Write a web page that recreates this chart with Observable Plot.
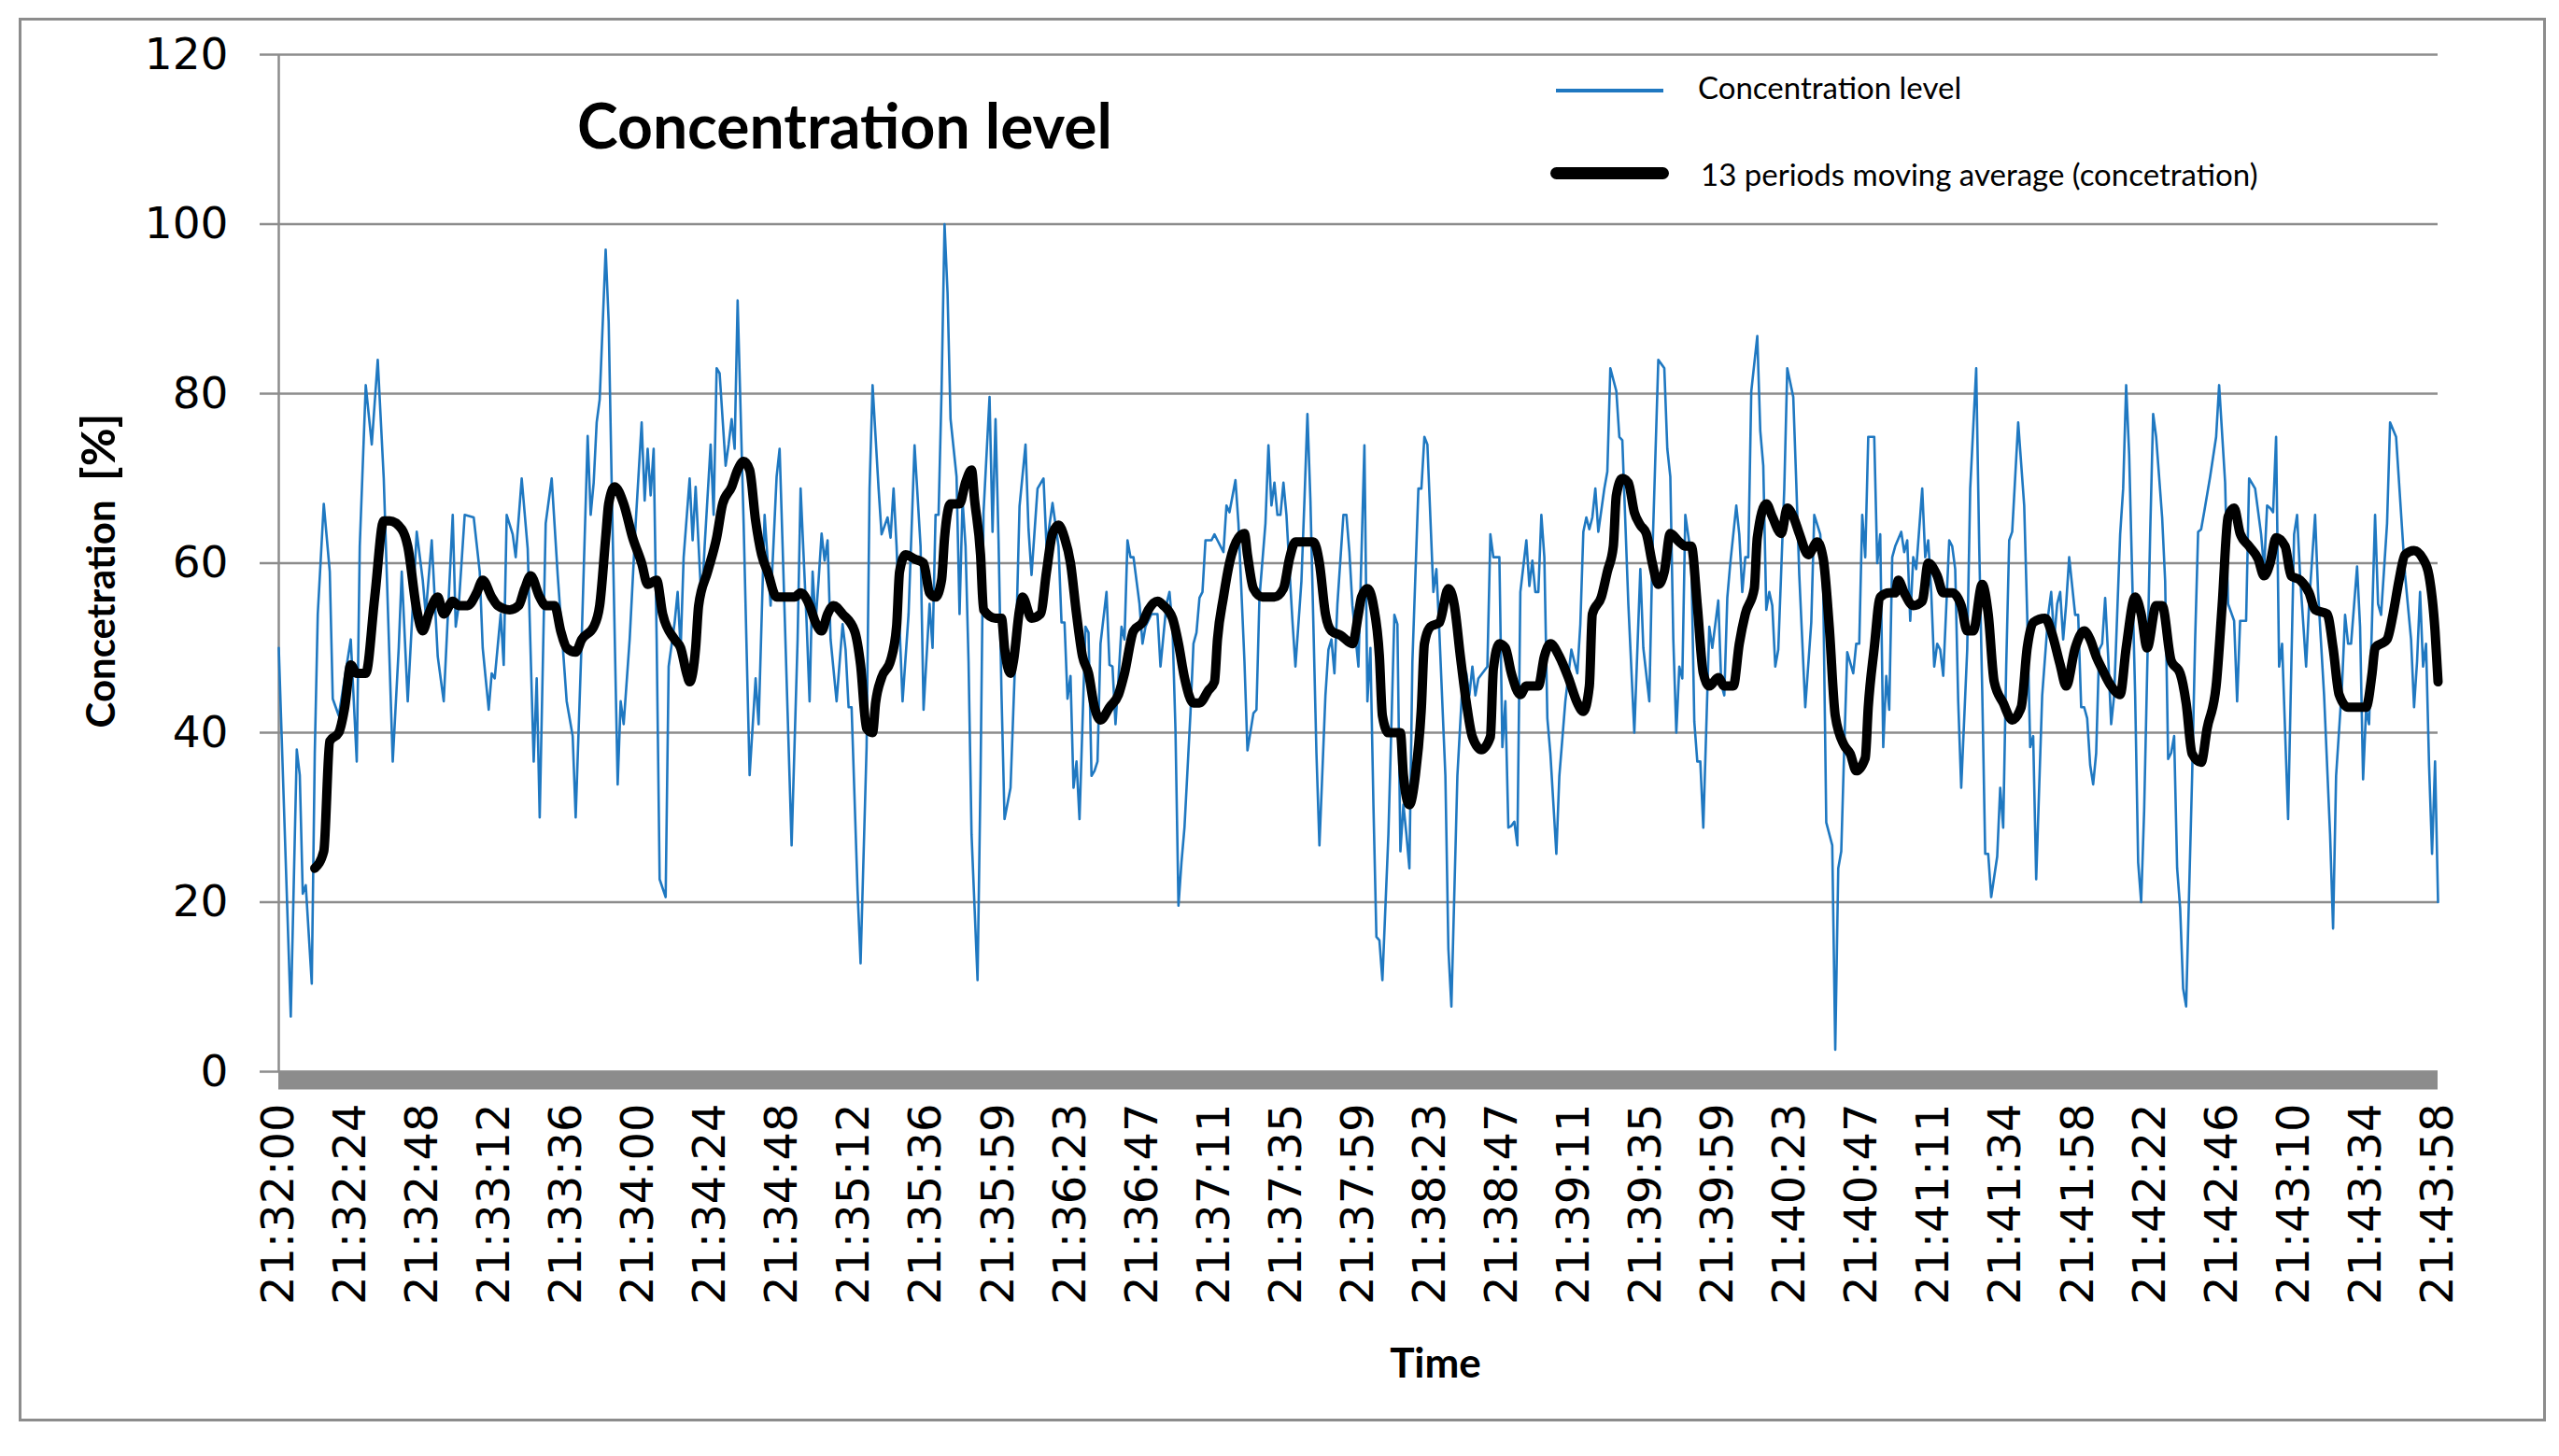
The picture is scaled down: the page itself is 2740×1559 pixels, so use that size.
<!DOCTYPE html>
<html>
<head>
<meta charset="utf-8">
<script src="https://cdn.jsdelivr.net/npm/d3@7"></script>
<script src="https://cdn.jsdelivr.net/npm/@observablehq/plot@0.6"></script>
<style>
  html, body { margin: 0; padding: 0; background: #ffffff; }
  #wrap { position: relative; width: 2740px; height: 1559px; overflow: hidden; background: #fff; }
  #chart { position: absolute; left: 0; top: 0; }
  .abs { position: absolute; white-space: nowrap; color: #000; }
</style>
</head>
<body>
<div id="wrap">
  <div class="abs" style="left:20px;top:19px;width:2706px;height:1503px;border:3px solid #8c8c8c;box-sizing:border-box;"></div>
  <div id="chart"></div>
  <div class="abs" id="title" style="left:618px;top:134px;transform:translateY(-50%);font:bold 66px Lato;line-height:1;">Concentration level</div>
  <div class="abs" style="left:1666px;top:95px;width:115px;height:4px;background:#1f78c1;"></div>
  <div class="abs" style="left:1818px;top:93px;transform:translateY(-50%);font:33px Lato;line-height:1;">Concentration level</div>
  <div class="abs" style="left:1660px;top:179px;width:127px;height:13px;border-radius:7px;background:#000;"></div>
  <div class="abs" style="left:1821px;top:186px;transform:translateY(-50%);font:33px Lato;line-height:1;">13 periods moving average (concetration)</div>
  <div class="abs" style="left:104px;top:611px;transform:translate(-50%,-50%) rotate(-90deg);font:bold 42px Lato;line-height:1;">Concetration&nbsp;&nbsp;<span style="font-size:50px">[%]</span></div>
  <div class="abs" style="left:1537px;top:1458px;transform:translate(-50%,-50%);font:bold 44px Lato;line-height:1;">Time</div>
</div>
<script>
// x-axis category labels (every 24th sample)
const tickLabels = ["21:32:00","21:32:24","21:32:48","21:33:12","21:33:36","21:34:00","21:34:24","21:34:48","21:35:12","21:35:36","21:35:59","21:36:23","21:36:47","21:37:11","21:37:35","21:37:59","21:38:23","21:38:47","21:39:11","21:39:35","21:39:59","21:40:23","21:40:47","21:41:11","21:41:34","21:41:58","21:42:22","21:42:46","21:43:10","21:43:34","21:43:58"];
const labelStep = 24;
const yTicks = [0, 20, 40, 60, 80, 100, 120];

// Concentration level: sample index and value
const concSample = [0,4,6,7,8,9,11,12,13,15,17,18,19,20,24,26,27,29,31,33,35,38,40,41,43,46,48,49,51,53,55,58,59,60,62,65,67,68,70,71,72,74,75,76,78,79,81,83,85,86,87,89,91,93,96,98,99,101,103,104,105,106,107,109,110,111,113,114,115,117,119,121,122,123,124,125,126,127,129,130,132,133,134,135,137,138,139,141,142,144,145,146,147,149,150,151,152,153,155,157,159,160,162,164,166,167,168,171,173,174,176,177,178,179,180,181,182,183,184,186,188,189,190,191,193,194,196,197,198,200,201,203,204,205,206,207,208,210,212,214,215,217,218,219,220,221,222,223,224,226,227,228,229,230,231,233,234,235,237,238,239,240,241,242,244,246,247,249,250,251,253,255,256,258,260,261,262,263,264,265,266,267,269,270,271,272,273,274,276,277,278,279,280,281,282,283,284,285,287,288,289,291,293,294,296,297,298,299,300,301,302,304,305,306,307,308,309,311,312,313,315,316,317,319,320,322,323,325,326,327,329,330,331,332,333,334,335,336,337,338,339,341,342,343,344,346,347,349,350,351,352,353,355,356,357,358,360,362,363,364,365,366,367,368,370,372,373,374,375,376,377,378,380,381,382,383,385,386,387,389,390,391,393,395,396,397,398,399,400,403,404,405,407,408,409,410,411,412,413,414,416,417,418,419,420,421,422,423,424,426,427,429,431,433,434,435,436,437,438,439,440,442,443,444,446,447,448,450,452,454,455,457,458,460,462,463,464,465,466,467,468,469,471,472,473,474,475,477,478,479,480,481,482,483,484,486,487,488,489,490,491,493,494,495,496,497,498,499,500,502,503,505,506,507,509,511,512,514,515,516,518,519,520,521,522,523,525,526,527,528,529,530,532,533,534,535,536,537,538,539,541,542,543,544,545,546,548,549,550,551,552,553,554,555,557,558,559,560,561,563,564,566,567,568,569,570,571,573,574,575,576,577,578,580,582,583,584,585,586,588,590,591,592,593,594,595,596,597,599,600,601,602,603,604,605,606,607,608,609,610,611,612,614,615,616,617,619,620,621,622,624,625,626,628,629,630,631,632,633,634,635,636,638,639,640,641,642,644,646,647,649,650,652,653,654,656,657,659,661,662,663,664,665,666,667,668,670,672,673,674,676,677,679,680,682,684,685,686,688,689,690,691,693,694,695,696,697,699,700,701,703,704,706,707,709,711,712,713,714,715,716,717,718,719,720];
const concValue = [50,6.5,38,35,21,22,10.4,37.6,54,67,59,44,43,42,51,36.6,62,81,74,84,70,36.6,50,59,43.7,63.7,58,54,62.7,49,43.7,65.7,52.5,55,65.7,65.4,59,50,42.7,47,46.4,54,48,65.7,63.4,60.7,70,61.7,36.6,46.4,30,64.7,70,58.6,43.7,39.6,30,51,75,65.7,69.5,76.6,79.3,97,88.5,69.5,33.9,43.7,41,51,64.7,76.6,67.4,73.5,68,73.5,51,22.7,20.6,47.8,53,56.6,49.8,60.7,70,62.7,69,55,62,74,65.7,83,82.4,71.5,74,77,73.5,91,64.7,35,46.4,41,65.7,55,70.2,73.5,62,26.7,51,68.8,53,43.7,59,53,58,63.5,60.3,62.7,51,43.7,52.8,49.8,43,43,21.3,12.8,38.3,68.8,81,68.8,63.4,65.4,63,68.8,62,52.5,43.7,54,73.9,62,42.7,55.2,50,65.7,65.7,80.3,100,91.9,77,70.2,54,67.4,62,48.4,28,10.8,34.9,66,79.6,63.7,77,62.7,44.4,29.8,33.5,53,66.7,74,64,58.6,68.8,70,62,67.1,62,53,53,44,46.7,33.5,36.6,29.8,52.5,51.8,34.9,35.5,36.6,50.5,56.6,48,47.8,41,46.4,52.5,51,62.7,60.7,60.7,55.2,50.5,52.5,54,54,47.8,55.2,56.6,52.5,40.3,19.6,24.7,28.8,42.3,50.5,51.8,55.9,56.6,62.7,62.7,63.4,62.7,61.3,66.8,66,69.8,64.7,48.4,37.9,42.3,42.7,55.9,64.7,73.9,66.8,69.5,65.7,65.7,69.5,65.7,59.3,53.2,47.8,57.9,67.4,77.6,67.4,37.6,26.7,44.4,49.8,51,47,55.2,65.7,65.7,61.3,55,47.8,73.9,43.7,50,31.5,15.9,15.5,10.8,28,53.9,52.8,26,31.5,28,24,48.4,68.8,68.8,74.9,74,56.6,59.3,51.8,34.9,14.5,7.7,34.9,47.8,47,44.4,47.8,44.4,46.4,47.8,63.4,60.7,60.7,38.3,43.7,28.8,29,29.5,26.7,56.6,62.7,57.3,60.3,56.6,56.6,65.7,60.7,41.7,37.6,25.7,34.9,43.7,49.8,47,52.8,63.7,65.4,64,65.4,68.8,63.7,68.8,70.8,83,80.3,74.9,74.5,55.2,40,59.3,50,43.7,60.7,84,83,73.5,70.2,51,40,47.8,46.4,65.7,60.7,41.3,36.6,36.6,28.8,52.5,50,52.8,55.6,45.7,44.4,55.9,60,66.8,63.4,56.6,60.7,60.7,80.3,86.8,75.6,71.5,54.5,56.6,55,47.8,49.8,68.8,83,79.6,69.5,58.6,43,53,65.7,63.4,56.6,29.4,26.7,2.6,24,26,38.3,49.5,47,50.5,50.5,65.7,60.7,74.9,74.9,60,63.4,38.3,46.7,42.7,60.7,62,63.7,61.3,62.7,53.2,60.7,59.3,68.8,60.7,62.7,56.6,47.8,50.5,49.8,46.7,62.7,62,59.3,43.7,33.5,49.8,68.8,83,62,45,25.7,25.7,20.6,25.4,33.5,28.8,47.8,62.7,63.7,76.6,66.8,53.9,38.3,39.6,22.7,44.4,53.9,56.6,51,55.2,56.6,51,55.2,60.7,53.9,53.9,43,43,41.7,36.2,33.9,37.6,49.8,50.5,55.9,49,41,44.4,63.4,68.8,81,72.9,44.4,24.7,20,30.8,63.4,77.6,74.9,65.4,57.9,36.9,37.6,39.6,24,19.3,9.8,7.7,34.9,51,63.7,64,66,70.2,74.9,81,69.5,55.2,53.2,43.7,53.2,53.2,70,68.8,63.4,59.3,66.8,66.5,66,74.9,47.8,50.5,29.8,63.4,65.7,58.5,47.8,55.2,65.7,56.6,44.4,28,16.9,34.9,45.7,53.9,50.5,50.5,59.6,52.5,34.5,42.7,41,65.7,55.2,53.9,64.7,76.6,74.9,69.5,58.6,51,43,48.4,56.6,47.8,50.5,36.2,25.7,36.6,20];

// 13 periods moving average: sample index and value
const maSample = [12,15,17,20,22,24,26,29,32,35,37,41,43,46,48,50,53,55,58,60,63,66,68,71,73,77,80,82,84,87,89,92,94,96,99,101,105,107,109,110,112,115,118,121,123,126,128,132,134,136,137,139,140,143,146,148,151,153,155,157,159,161,163,166,168,172,174,177,179,181,183,185,188,192,194,196,198,199,201,204,206,207,209,212,215,217,219,221,222,224,227,229,231,232,234,235,239,241,242,244,245,247,248,251,254,256,258,260,262,264,266,268,270,272,274,277,280,282,285,288,290,293,295,298,300,302,305,307,310,312,313,315,317,320,322,323,325,328,332,335,337,339,342,345,347,349,351,354,358,360,361,363,365,367,368,370,374,375,377,379,381,382,384,387,390,392,394,396,398,401,404,405,407,409,411,414,416,420,422,424,427,430,433,435,437,438,441,443,445,446,448,450,452,454,456,458,460,462,464,467,469,471,473,475,477,480,482,485,487,489,492,493,496,498,501,503,505,507,510,513,515,517,519,522,524,526,529,530,532,534,537,539,540,542,545,548,550,553,555,558,561,563,565,568,570,572,575,578,581,583,585,589,591,594,596,599,602,604,606,608,611,614,616,619,621,623,626,628,631,634,636,638,641,643,646,648,650,652,654,657,660,662,664,666,669,671,674,677,679,683,685,687,690,693,696,698,699,703,705,707,709,712,715,717,719,720];
const maValue = [24,26,39,40,43,48,47,47,56,65,65,64,62,54.5,52,54,56,54,55.5,55,55,56.5,58,56,55,54.5,55,57,58.5,56,55,55,52,50,49.5,51,52.5,55,63,67,69,67,63,60,57.5,58,54,51,50,47,46,50,55,59,63,67,69,71,72,71,65,61,59,56,56,56,56.5,55,53,52,54,55,54,52,48,40.5,40,43.5,46.5,48.5,52.5,59,61,60.5,60,56.5,56,58,63,67,67,69.5,71,67.5,61,54.5,53.5,53.5,50,47,48.5,54.5,56,53.5,54,59,63.5,64.5,63,60,54,49,47,43,41.5,43,44.5,47,52,53,54.5,55.5,55,53.5,50.5,46.5,43.5,43.5,45,46,51,56,60,63,63.5,61,57,56,56,57,60.5,62.5,62.5,62.5,60,54,52,51.5,50.5,54,56,57,55,49,42,40,40,35,31.5,35,43,50.5,52.5,53,57,55,49,43.5,39.5,38,39.5,47.5,50.5,50,47,44.5,45.5,45.5,49,50.5,49,46.5,43.5,42.5,45.5,54,56,59,62,68,70,69.5,66,64.5,63.5,60,57.5,59,63.5,62.5,62,62,55,47,45.5,46.5,45.5,45.5,50.5,54,57,63,67,65.5,63.5,66.5,65.5,63.5,61,62.5,60.5,52.5,42,38.5,37.5,35.5,37,43,50,56,56.5,56.5,58,56.5,55,55.5,60,58.5,56.5,56.5,55,52,52,57.5,54,46,43.5,41.5,43,50,53,53.5,52,48,45.5,50,52,51,49,47.5,45.5,44.5,50,56,54,50,55,55,48.5,47,43.5,37.5,36.5,40.5,45.5,55,65.5,66.5,63.5,62,60.5,58.5,60,63,62,58.5,58,56.5,54.5,54,50,44.5,43,43,43,47,50,51,54,58,61,61.5,60.5,58.5,52,46];

const tickIdx = tickLabels.map((_, i) => i * labelStep);
const grey = "#8c8c8c";

const chart = Plot.plot({
  width: 2740,
  height: 1559,
  marginLeft: 298,
  marginRight: 130,
  marginTop: 58,
  marginBottom: 412,
  style: { background: "transparent", fontFamily: "DejaVu Sans", color: "#000" },
  x: { domain: [0, tickIdx[tickIdx.length - 1]] },
  y: { domain: [0, 120] },
  marks: [
    Plot.gridY(yTicks, { stroke: grey, strokeOpacity: 1, strokeWidth: 2.5 }),
    Plot.ruleX([0], { y1: 0, y2: 120, stroke: grey, strokeWidth: 2.5 }),
    Plot.axisY(yTicks, { label: null, tickSize: 20, tickPadding: 34, stroke: grey, strokeWidth: 2.5, fontSize: 47, fill: "#000" }),
    Plot.axisX(tickIdx, { label: null, tickFormat: (d) => tickLabels[Math.round(d / labelStep)], tickRotate: -90, tickSize: 0, tickPadding: 34, fontSize: 48, fill: "#000" }),
    Plot.line(concSample, { x: (d) => d, y: (d, i) => concValue[i], stroke: "#1f78c1", strokeWidth: 2.6, strokeLinejoin: "round" }),
    Plot.line(maSample, { x: (d) => d, y: (d, i) => maValue[i], stroke: "#000", strokeWidth: 10, strokeLinejoin: "round", strokeLinecap: "round", curve: "monotone-x" }),
    Plot.ruleY([0], { stroke: grey, strokeWidth: 20, dy: 9 })
  ]
});
document.getElementById("chart").appendChild(chart);
</script>
</body>
</html>
